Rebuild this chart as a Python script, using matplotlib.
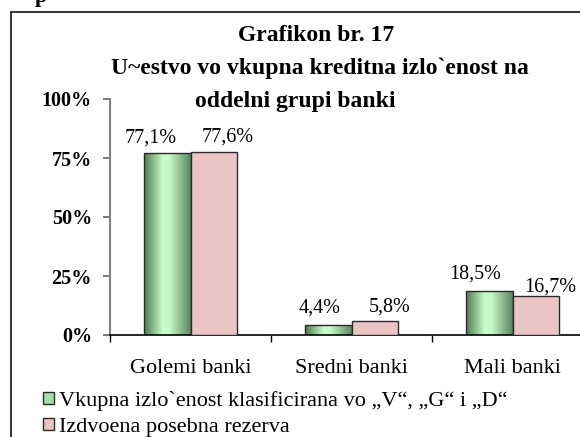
import numpy as np
import matplotlib
matplotlib.use("Agg")
import matplotlib.pyplot as plt
from matplotlib.patches import Rectangle, Patch
from matplotlib.colors import LinearSegmentedColormap

categories = ["Golemi banki", "Sredni banki", "Mali banki"]
series_names = ["Vkupna izlo`enost klasificirana vo „V“, „G“ i „D“",
                "Izdvoena posebna rezerva"]
vals_total = [77.1, 4.4, 18.5]
vals_reserve = [77.6, 5.8, 16.7]
labels_total = ["77,1%", "4,4%", "18,5%"]
labels_reserve = ["77,6%", "5,8%", "16,7%"]
yticks = [0, 25, 50, 75, 100]
yticklabels = ["0%", "25%", "50%", "75%", "100%"]
title_lines = ["Grafikon br. 17",
               "U~estvo vo vkupna kreditna izlo`enost na",
               "oddelni grupi banki"]

W, H = 580, 437
fig = plt.figure(figsize=(W / 100, H / 100), dpi=100)
serif = ["Liberation Serif", "DejaVu Serif"]

# axes placement (pixels)
x0, x1 = 110, 593
y0, y1 = 335, 99
ax = fig.add_axes([x0 / W, 1 - y0 / H, (x1 - x0) / W, (y0 - y1) / H])
ax.set_xlim(-0.5, 2.5)
ax.set_ylim(0, 100)

bw = 0.289
x = np.arange(len(categories))
green_cmap = LinearSegmentedColormap.from_list(
    "g", [(0, "#4e7a50"), (0.4, "#c9fdc9"), (0.55, "#c4f7c4"), (1, "#5a8460")])
grad = np.linspace(0, 1, 256).reshape(1, -1)

bars1 = ax.bar(x - bw / 2, vals_total, width=bw, facecolor="none",
               edgecolor="#2a2a2a", linewidth=1.0, zorder=3)
for b in bars1:
    im = ax.imshow(grad, cmap=green_cmap, aspect="auto",
                   extent=[b.get_x(), b.get_x() + b.get_width(), 0, b.get_height()],
                   zorder=2)
    im.set_clip_path(b)
bars2 = ax.bar(x + bw / 2, vals_reserve, width=bw, facecolor="#ebc4c4",
               edgecolor="#2a2a2a", linewidth=1.0, zorder=3)

ax.set_xlim(-0.5, 2.5)
ax.set_ylim(0, 100)

# data labels (offsets in points, baseline-anchored)
off1 = [(-12, 7.5), (-6, 9), (-10, 9.4)]
off2 = [(10, 7.2), (11, 6.7), (10.5, 2.9)]
for b, t, o in zip(bars1, labels_total, off1):
    ax.annotate(t, (b.get_x() + b.get_width() / 2, b.get_height()),
                xytext=o, textcoords="offset points", ha="center", va="baseline",
                fontsize=14.5, family=serif, annotation_clip=False)
for b, t, o in zip(bars2, labels_reserve, off2):
    ax.annotate(t, (b.get_x() + b.get_width() / 2, b.get_height()),
                xytext=o, textcoords="offset points", ha="center", va="baseline",
                fontsize=14.5, family=serif, annotation_clip=False)

# axes styling
for s in ["top", "right"]:
    ax.spines[s].set_visible(False)
ax.spines["left"].set_color("#808080")
ax.spines["left"].set_linewidth(1.5)
ax.spines["bottom"].set_color("black")
ax.spines["bottom"].set_linewidth(1.2)
ax.set_yticks(yticks)
ax.set_yticklabels(yticklabels, fontsize=14.5, fontweight="bold", family=serif)
ax.tick_params(axis="y", length=5, color="#606060", width=1.2, pad=8)
ax.set_xticks([-0.5, 0.5, 1.5, 2.5])
ax.set_xticklabels([])
ax.tick_params(axis="x", length=5, color="black", width=1.0)
ax.set_xticks(x, minor=True)
ax.set_xticklabels(categories, minor=True, fontsize=16, family=serif)
ax.tick_params(axis="x", which="minor", length=0, pad=17)

# title
tx = [316, 320, 295]
ty = [41, 74, 107]
for t, xx, yy in zip(title_lines, tx, ty):
    fig.text(xx / W, 1 - yy / H, t, ha="center", va="baseline", fontsize=17,
             fontweight="bold", family=serif)

# frame
fig.patches.append(Rectangle((11 / W, -0.1), 1.2, 1.1 - 12 / H, transform=fig.transFigure,
                             fill=False, edgecolor="#3a3a3a", linewidth=1.5))
fig.text(35 / W, 1 - 2 / H, "p", fontsize=16, fontweight="bold", family=serif,
         ha="left", va="baseline")

# legend
handles = [Patch(facecolor="#a6dca6", edgecolor="#2a2a2a"),
           Patch(facecolor="#ebc4c4", edgecolor="#2a2a2a")]
fig.legend(handles, series_names, loc="upper left",
           bbox_to_anchor=(43 / W, 1 - 391 / H), frameon=False,
           prop={"family": serif, "size": 16}, handlelength=0.5, handleheight=0.5,
           handletextpad=0.2, labelspacing=0.3, borderaxespad=0, borderpad=0)

fig.savefig("out.png", dpi=100)
